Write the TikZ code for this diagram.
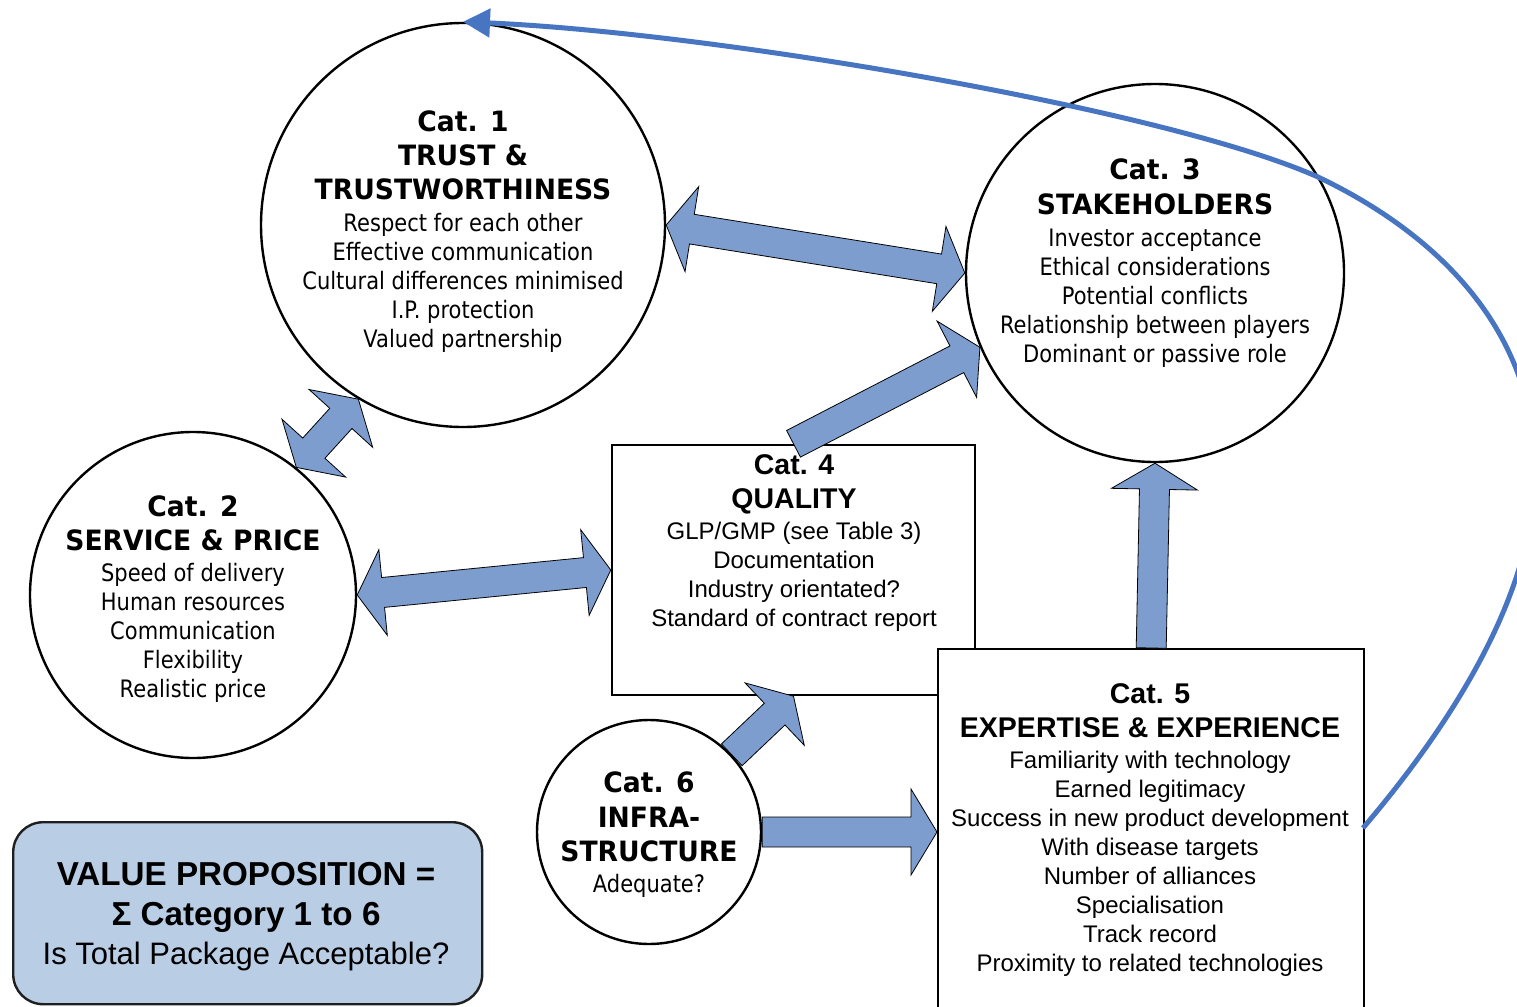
\documentclass[tikz,border=0pt]{standalone}
\usepackage{fontspec}
\setmainfont{Liberation Sans}
\newfontfamily\tahfont[FakeStretch=0.875]{DejaVu Sans}
\newfontfamily\tahbold[FakeStretch=0.95]{DejaVu Sans}
\usetikzlibrary{calc,arrows.meta}
\definecolor{arrblue}{RGB}{124,157,206}
\definecolor{boxblue}{RGB}{185,205,229}
\definecolor{curveblue}{RGB}{71,117,194}
\newcommand\BoldT[1]{{\tahbold\bfseries\fontsize{28}{29}\selectfont #1}}
\newcommand\BoldA[1]{{\bfseries\fontsize{28.5}{29}\selectfont #1}}
\newcommand\ArrOne[2]{%
  \coordinate (bH) at ($(#2)!26pt!(#1)$);
  \filldraw[blk] ($(#1)!15pt!90:(#2)$) -- ($(bH)!15pt!90:(#2)$) -- ($(bH)!43pt!90:(#2)$) -- (#2)
    -- ($(bH)!43pt!-90:(#2)$) -- ($(bH)!15pt!-90:(#2)$) -- ($(#1)!15pt!-90:(#2)$) -- cycle;}
\newcommand\ArrTwo[2]{%
  \coordinate (bHa) at ($(#1)!26pt!(#2)$);
  \coordinate (bHb) at ($(#2)!26pt!(#1)$);
  \filldraw[blk] (#1) -- ($(bHa)!43pt!90:(#2)$) -- ($(bHa)!15pt!90:(#2)$) -- ($(bHb)!15pt!90:(#2)$)
    -- ($(bHb)!43pt!90:(#2)$) -- (#2) -- ($(bHb)!43pt!-90:(#2)$) -- ($(bHb)!15pt!-90:(#2)$)
    -- ($(bHa)!15pt!-90:(#2)$) -- ($(bHa)!43pt!-90:(#2)$) -- cycle;}
\begin{document}
\begin{tikzpicture}[x=1pt,y=-1pt,
  circ/.style={circle, draw, line width=2.4pt, fill=white, inner sep=0pt},
  rbox/.style={rectangle, draw, line width=2.4pt, fill=white, inner sep=0pt},
  ttxt/.style={align=center, anchor=north, inner sep=0pt, font=\tahfont\fontsize{24}{29}\selectfont},
  atxt/.style={align=center, anchor=north, inner sep=0pt, font=\fontsize{24}{29}\selectfont},
  blk/.style={fill=arrblue, draw=black, line width=0.8pt, line join=miter},
  curve/.style={draw=curveblue, line width=5pt, -{Triangle[length=27pt,width=28pt]}}]
\useasboundingbox (0,0) rectangle (1517,1006);
% shapes
\node[circ, minimum size=404pt] (c1) at (463,225) {};
\node[circ, minimum size=326pt] (c2) at (193,595) {};
\node[circ, minimum size=378pt] (c3) at (1155,273) {};
\node[rbox, minimum width=363pt, minimum height=250pt] (c4) at (793.5,570) {};
\node[rbox, anchor=north west, minimum width=426pt, minimum height=420pt] (c5) at (937,648) {};
\node[circ, minimum size=224pt] (c6) at (649,832) {};
\node[rectangle, rounded corners=30pt, draw=black!88, line width=2.4pt, fill=boxblue,
      anchor=north west, minimum width=469pt, minimum height=182pt] (vp) at (12,821) {};
% block arrows
\ArrTwo{c1.east}{c3.west}
\ArrTwo{c1.239}{c2.51}
\ArrTwo{c2.east}{c4.west}
\ArrOne{c4.north}{c3.203}
\ArrOne{c5.north}{c3.south}
\ArrOne{c6.43}{c4.south}
\coordinate (a7t) at (c6.east -| c5.west);
\ArrOne{c6.east}{a7t}
% texts
\node[ttxt] (t1) at (463,111) {\BoldT{Cat. 1}\\[5pt]\BoldT{TRUST \&}\\[5pt]\BoldT{TRUSTWORTHINESS}\\[3pt]
  Respect for each other\\Effective communication\\Cultural differences minimised\\I.P. protection\\Valued partnership};
\node[ttxt] (t2) at (193,496) {\BoldT{Cat. 2}\\[5pt]\BoldT{SERVICE \& PRICE}\\[2pt]
  Speed of delivery\\Human resources\\Communication\\Flexibility\\Realistic price};
\node[ttxt] (t3) at (1155,159) {\BoldT{Cat. 3}\\[6pt]\BoldT{STAKEHOLDERS}\\[3pt]
  Investor acceptance\\Ethical considerations\\Potential conflicts\\Relationship between players\\Dominant or passive role};
\node[atxt] (t4) at (794,454) {\BoldA{Cat. 4}\\[5pt]\BoldA{QUALITY}\\[2pt]
  GLP/GMP (see Table 3)\\Documentation\\Industry orientated?\\Standard of contract report};
\node[atxt] (t5) at (1150,683) {\BoldA{Cat. 5}\\[5pt]\BoldA{EXPERTISE \& EXPERIENCE}\\[2pt]
  Familiarity with technology\\Earned legitimacy\\Success in new product development\\With disease targets\\Number of alliances\\Specialisation\\Track record\\Proximity to related technologies};
\node[ttxt] (t6) at (649,772) {\BoldT{Cat. 6}\\[6pt]\BoldT{INFRA-}\\[5pt]\BoldT{STRUCTURE}\\[2pt]Adequate?};
\node[align=center, anchor=north, inner sep=0pt, font=\fontsize{31}{39}\selectfont] (tv) at (246,862)
  {{\bfseries\fontsize{33.2}{39}\selectfont VALUE PROPOSITION =}\\[1pt]{\bfseries\fontsize{33.2}{39}\selectfont Σ Category 1 to 6}\\Is Total Package Acceptable?};
% feedback curve
\coordinate (cs) at (1363,828);
\draw[curve] (cs) .. controls (1443,734) and (1535,600) .. (1535,470)
  .. controls (1535,340) and (1450,240) .. (1318,177)
  .. controls (1168,110) and (717,33) .. (c1.north);
\end{tikzpicture}
\end{document}
